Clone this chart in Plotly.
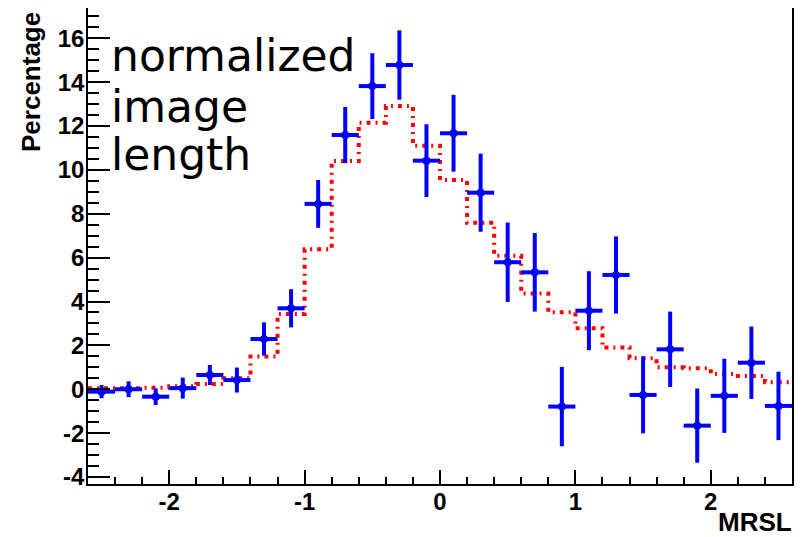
import plotly.graph_objects as go

# ---- data ----
bin_centers = [-2.5, -2.3, -2.1, -1.9, -1.7, -1.5, -1.3, -1.1, -0.9, -0.7, -0.5, -0.3, -0.1,
               0.1, 0.3, 0.5, 0.7, 0.9, 1.1, 1.3, 1.5, 1.7, 1.9, 2.1, 2.3, 2.5]
bin_half_width = 0.1

data_values = [-0.11, 0.0, -0.34, 0.05, 0.65, 0.42, 2.29, 3.69, 8.45, 11.59, 13.82, 14.78, 10.42,
               11.67, 8.96, 5.79, 5.33, -0.79, 3.58, 5.21, -0.26, 1.82, -1.66, -0.30, 1.21, -0.76]
data_errors = [0.30, 0.36, 0.38, 0.48, 0.46, 0.57, 0.76, 0.87, 1.09, 1.28, 1.50, 1.58, 1.66,
               1.75, 1.78, 1.81, 1.79, 1.81, 1.80, 1.76, 1.75, 1.72, 1.69, 1.69, 1.65, 1.56]

model_values = [0.05, 0.05, 0.07, 0.14, 0.24, 0.50, 1.49, 3.43, 6.38, 10.40, 12.15, 12.91, 11.10,
                9.54, 7.59, 6.09, 4.37, 3.51, 2.78, 1.90, 1.41, 1.00, 0.96, 0.70, 0.60, 0.32]

x_tick_vals = [-2, -1, 0, 1, 2]
x_tick_text = ["-2", "-1", "0", "1", "2"]
y_tick_vals = [-4, -2, 0, 2, 4, 6, 8, 10, 12, 14, 16]
y_tick_text = ["-4", "-2", "0", "2", "4", "6", "8", "10", "12", "14", "16"]

label_lines = ["normalized", "image", "length"]

# ---- step histogram from bin edges ----
edges = [c - bin_half_width for c in bin_centers] + [bin_centers[-1] + bin_half_width]
step_y = model_values + [model_values[-1]]

fig = go.Figure()

fig.add_trace(go.Scatter(
    x=edges, y=step_y, mode="lines", line_shape="hv",
    line=dict(color="#ff0000", width=4, dash="4px,5px,2px,5px"),
    showlegend=False, hoverinfo="skip",
))

fig.add_trace(go.Scatter(
    x=bin_centers, y=data_values, mode="markers",
    marker=dict(color="#0000ff", size=8, symbol="circle"),
    error_y=dict(type="data", array=data_errors, visible=True, color="#0000ff", thickness=4, width=0),
    error_x=dict(type="constant", value=bin_half_width, visible=True, color="#0000ff", thickness=4, width=0),
    showlegend=False,
))

tick_font = dict(family="Liberation Sans, Arial, sans-serif", size=24, color="black", weight="bold")
title_font = dict(family="Liberation Sans, Arial, sans-serif", size=26, color="black", weight="bold")

# page offset: the browser body adds an 8px margin, so the figure is sized/shifted to compensate
OFF = 8
W, H = 802 - OFF, 537 - OFF
L, T = 88 - OFF, 8 - OFF
R, B = W - (792 - OFF), H - (484 - OFF)
pw, ph = W - L - R, H - T - B

def px_x(px):
    return (px - OFF - L) / pw

def px_y(py):
    return (H - B - (py - OFF)) / ph

fig.update_layout(
    width=W, height=H,
    margin=dict(l=L, r=R, t=T, b=B, autoexpand=False),
    paper_bgcolor="white", plot_bgcolor="white",
    xaxis=dict(
        range=[-2.6, 2.6], tickvals=x_tick_vals, ticktext=x_tick_text,
        ticks="inside", ticklen=14, tickwidth=1.5, tickcolor="black",
        showline=True, linecolor="black", linewidth=1.5, mirror=True,
        showgrid=False, zeroline=False, tickfont=tick_font, automargin=False,
        ticklabelstandoff=-5,
        minor=dict(dtick=0.2, tick0=0, ticks="inside", ticklen=7, tickwidth=1.5, tickcolor="black", showgrid=False),
    ),
    yaxis=dict(
        range=[-4.32, 17.38], tickvals=y_tick_vals, ticktext=y_tick_text,
        ticks="inside", ticklen=22, tickwidth=1.5, tickcolor="black",
        showline=True, linecolor="black", linewidth=1.5, mirror=True,
        showgrid=False, zeroline=False, tickfont=tick_font, automargin=False,
        ticklabelstandoff=-3,
        minor=dict(dtick=0.5, tick0=0, ticks="inside", ticklen=11, tickwidth=1.5, tickcolor="black", showgrid=False),
    ),
)

annotations = []
for line, cy in zip(label_lines, [56, 106, 154]):
    annotations.append(dict(
        text=line, xref="paper", yref="paper", x=px_x(109), y=px_y(cy),
        xanchor="left", yanchor="middle", showarrow=False,
        font=dict(family="DejaVu Sans", size=44, color="black"),
    ))
annotations.append(dict(
    text="Percentage", xref="paper", yref="paper", x=px_x(31), y=px_y(82),
    xanchor="center", yanchor="middle", textangle=-90, showarrow=False, font=title_font,
))
annotations.append(dict(
    text="MRSL", xref="paper", yref="paper", x=px_x(794), y=px_y(522),
    xanchor="right", yanchor="middle", showarrow=False, font=title_font,
))
fig.update_layout(annotations=annotations)

fig.write_html("out.html")
